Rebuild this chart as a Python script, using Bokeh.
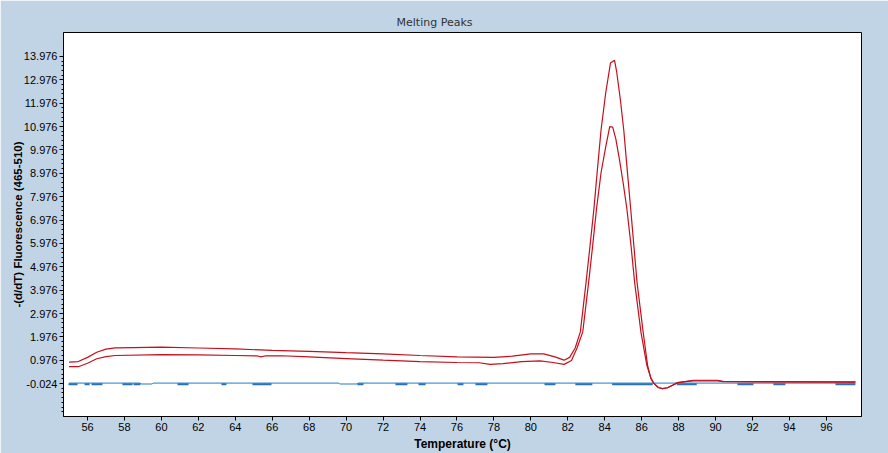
from bokeh.plotting import figure
from bokeh.models import Range1d, FixedTicker, Title
from bokeh.embed import file_html
from bokeh.resources import INLINE

# ---------------- data ----------------
x_ticks = [56, 58, 60, 62, 64, 66, 68, 70, 72, 74, 76, 78, 80, 82, 84, 86, 88, 90, 92, 94, 96]
y_tick_values = [-0.024, 0.976, 1.976, 2.976, 3.976, 4.976, 5.976, 6.976, 7.976,
                 8.976, 9.976, 10.976, 11.976, 12.976, 13.976]
y_tick_labels = ["-0.024", "0.976", "1.976", "2.976", "3.976", "4.976", "5.976", "6.976",
                 "7.976", "8.976", "9.976", "10.976", "11.976", "12.976", "13.976"]

# upper red sample
t_upper = [55.0, 55.5, 56.0, 56.5, 57.0, 57.5, 58.5, 60.0, 62.0, 64.0, 66.0, 68.0, 70.0,
           72.0, 74.0, 76.0, 78.0, 79.0, 80.0, 80.7, 81.3, 81.8, 82.1, 82.4, 82.68, 82.99,
           83.2, 83.41, 83.6, 83.8, 84.05, 84.31, 84.53, 84.65, 84.85, 85.03, 85.22, 85.4,
           85.75, 86.08, 86.32, 86.5, 86.65, 86.9, 87.12, 87.4, 87.7, 87.95, 88.4, 88.8,
           90.1, 90.4, 97.57]
v_upper = [0.90, 0.92, 1.10, 1.32, 1.45, 1.51, 1.52, 1.54, 1.50, 1.46, 1.40, 1.36, 1.30,
           1.25, 1.18, 1.12, 1.10, 1.15, 1.25, 1.25, 1.12, 0.98, 1.10, 1.50, 2.19, 4.32,
           5.85, 7.42, 9.10, 10.83, 12.40, 13.69, 13.81, 13.30, 12.10, 10.83, 9.10, 7.50,
           4.30, 2.18, 0.76, 0.20, 0.00, -0.19, -0.24, -0.20, -0.08, 0.02, 0.07, 0.12,
           0.12, 0.07, 0.05]

# lower red sample
t_lower = [55.0, 55.5, 56.0, 56.5, 57.0, 57.5, 60.0, 62.0, 64.0, 65.2, 65.4, 65.6, 66.5,
           68.0, 70.0, 72.0, 74.0, 76.0, 77.2, 77.8, 78.5, 79.5, 80.5, 81.2, 81.8, 82.2,
           82.5, 82.81, 83.13, 83.35, 83.55, 83.8, 84.05, 84.27, 84.43, 84.6, 84.8, 85.0,
           85.2, 85.42, 85.62, 85.96, 86.28, 86.5, 86.65, 86.9, 87.12, 87.4, 87.7, 87.95,
           88.4, 88.8, 90.1, 90.4, 97.57]
v_lower = [0.70, 0.70, 0.85, 1.04, 1.13, 1.18, 1.22, 1.21, 1.18, 1.16, 1.12, 1.16, 1.17,
           1.12, 1.05, 0.98, 0.92, 0.88, 0.87, 0.80, 0.83, 0.92, 0.95, 0.88, 0.80, 0.97,
           1.50, 2.19, 4.32, 5.90, 7.42, 9.00, 10.10, 10.97, 10.95, 10.45, 9.55, 8.55,
           7.45, 5.90, 4.30, 2.18, 0.76, 0.20, 0.00, -0.19, -0.24, -0.20, -0.08, 0.02,
           0.06, 0.09, 0.09, 0.06, 0.04]

# blue negative control (main trace)
t_blue = [55.0, 58.85, 58.9, 59.5, 59.55, 69.6, 69.65, 70.6, 70.65, 97.57]
v_blue = [0.00, 0.00, -0.04, -0.04, 0.00, 0.00, -0.04, -0.04, 0.00, 0.00]

# second blue trace, visible only where it sits just below the first
dash_start = [54.97, 55.84, 56.22, 57.89, 58.49, 60.87, 63.25, 64.93, 70.61, 72.67, 73.92,
              76.03, 77.00, 80.74, 82.41, 84.40, 87.90, 91.18, 93.13, 96.49]
dash_end = [55.46, 56.11, 56.81, 58.44, 58.87, 61.47, 63.52, 65.96, 70.94, 73.32, 74.30,
            76.35, 77.65, 81.33, 83.33, 86.60, 88.98, 92.05, 93.78, 97.57]
dash_level = [-0.05] * len(dash_start)

# ---------------- figure ----------------
RED = "#C4101C"
BLUE = "#2179C9"
BLUE2 = "#2A70BE"

p = figure(width=888, height=453, output_backend="svg", toolbar_location=None,
           x_range=Range1d(54.7, 97.9), y_range=Range1d(-1.43, 15.0),
           min_border_left=63, min_border_right=27, min_border_top=32, min_border_bottom=35)

p.border_fill_color = "#C1D4E6"
p.background_fill_color = "white"
p.outline_line_color = "black"
p.outline_line_width = 1
p.xgrid.visible = False
p.ygrid.visible = False

title = Title(text="Melting Peaks", align="left", offset=333,
              text_font="DejaVu Sans", text_font_size="11px", text_font_style="normal",
              text_color="#333333", standoff=8)
p.add_layout(title, "above")

minor = []
for i in range(len(y_tick_values) - 1):
    a, b = y_tick_values[i], y_tick_values[i + 1]
    minor += [a + (b - a) * k / 5 for k in range(1, 5)]
minor = [y_tick_values[0] - (y_tick_values[1] - y_tick_values[0]) * k / 5 for k in range(1, 7)] + minor

p.yaxis.ticker = FixedTicker(ticks=y_tick_values, minor_ticks=minor)
p.yaxis.major_label_overrides = {v: s for v, s in zip(y_tick_values, y_tick_labels)}
p.xaxis.ticker = FixedTicker(ticks=x_ticks)

for ax in (p.xaxis[0], p.yaxis[0]):
    ax.axis_line_color = "black"
    ax.major_tick_line_color = "black"
    ax.minor_tick_line_color = "black"
    ax.major_tick_out = 4
    ax.major_tick_in = 0
    ax.minor_tick_out = 2
    ax.minor_tick_in = 0
    ax.major_label_text_font = "Liberation Sans"
    ax.major_label_text_font_size = "11px"
    ax.major_label_text_color = "black"
    ax.major_label_standoff = 2
    ax.axis_label_text_font = "Liberation Sans"
    ax.axis_label_text_font_style = "bold"
    ax.axis_label_text_color = "black"
    ax.axis_label_standoff = 3

p.yaxis.axis_label_standoff = -3

p.xaxis.axis_label = "Temperature (°C)"
p.xaxis.axis_label_text_font_size = "12px"
p.yaxis.axis_label = "-(d/dT) Fluorescence (465-510)"
p.yaxis.axis_label_text_font_size = "11.5px"

p.line(t_blue, v_blue, line_color=BLUE, line_width=1)
p.segment(x0=dash_start, y0=dash_level, x1=dash_end, y1=dash_level,
          line_color=BLUE2, line_width=2)
p.line(t_upper, v_upper, line_color=RED, line_width=1.2)
p.line(t_lower, v_lower, line_color=RED, line_width=1.2)

open("out.html", "w").write(file_html(p, INLINE))
